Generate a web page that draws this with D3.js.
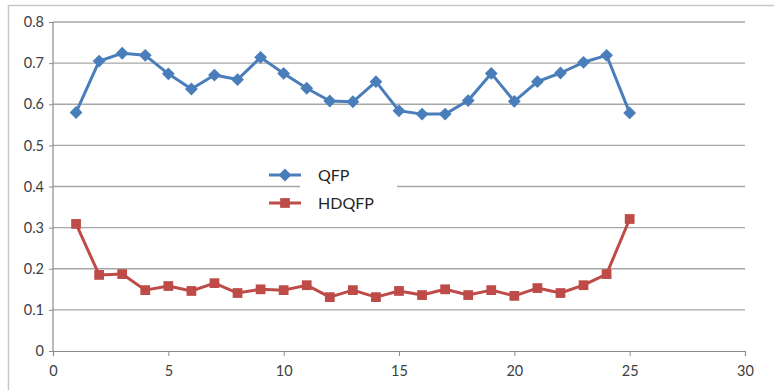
<!DOCTYPE html>
<html><head><meta charset="utf-8">
<script src="https://cdn.jsdelivr.net/npm/d3@7"></script>
<style>body{margin:0;background:#fff}svg{display:block}</style>
</head><body>
<svg id="c" width="774" height="390"></svg>
<script>
const xValues = [1,2,3,4,5,6,7,8,9,10,11,12,13,14,15,16,17,18,19,20,21,22,23,24,25];
const qfp = [0.58,0.705,0.724,0.719,0.674,0.637,0.671,0.66,0.714,0.675,0.639,0.608,0.606,0.655,0.584,0.576,0.576,0.609,0.675,0.607,0.655,0.676,0.702,0.719,0.579];
const hdqfp = [0.309,0.185,0.187,0.148,0.158,0.146,0.165,0.141,0.15,0.148,0.16,0.131,0.148,0.131,0.146,0.136,0.15,0.136,0.148,0.134,0.153,0.141,0.16,0.187,0.321];
const xTicks = [0,5,10,15,20,25,30];
const yTicks = [0,0.1,0.2,0.3,0.4,0.5,0.6,0.7,0.8];
const seriesNames = ["QFP","HDQFP"];
const colors = ["#4a7ebb","#be4b48"];

const svg = d3.select("#c");
const font = "Lato, 'Open Sans', sans-serif";
// outer frame
svg.append("path").attr("d","M8.5,395 L8.5,5.5 L780,5.5").attr("fill","none").attr("stroke","#c8c8c8").attr("stroke-width",1.5);

const x = d3.scaleLinear().domain([0,30]).range([53,745]);
const y = d3.scaleLinear().domain([0,0.8]).range([351,22]);

// gridlines
svg.append("g").selectAll("line").data(yTicks.filter(d=>d>0)).join("line")
  .attr("x1",53).attr("x2",745).attr("y1",d=>y(d)).attr("y2",d=>y(d))
  .attr("stroke","#a6a6a6").attr("stroke-width",1.3);

// y axis
const yAxis = svg.append("g").attr("transform","translate(53,0)")
  .call(d3.axisLeft(y).tickValues(yTicks).tickSize(4).tickPadding(5).tickFormat(d=>d===0?"0":d3.format(".1f")(d)));
yAxis.select(".domain").attr("stroke","#8c8c8c").attr("stroke-width",1.2).attr("d","M-4,22.5H0V351.5H-4");
yAxis.selectAll(".tick line").attr("stroke","#8c8c8c");
yAxis.selectAll("text").attr("font-family",font).attr("font-size",14.5).attr("fill","#404040");

// x axis
const xAxis = svg.append("g").attr("transform","translate(0,351)")
  .call(d3.axisBottom(x).tickValues(xTicks).tickSize(5).tickPadding(10));
xAxis.select(".domain").attr("stroke","#8c8c8c").attr("stroke-width",1.2);
xAxis.selectAll(".tick line").attr("stroke","#8c8c8c");
xAxis.selectAll("text").attr("font-family",font).attr("font-size",14.5).attr("fill","#404040");

// legend background
svg.append("rect").attr("x",300).attr("y",165).attr("width",97).attr("height",50).attr("fill","#fff");

const line = d3.line().x((d,i)=>x(xValues[i])).y(d=>y(d));
const diamond = d3.symbol().type(d3.symbolDiamond2).size(105);
const square = d3.symbol().type(d3.symbolSquare).size(95);

function drawSeries(vals, color, sym){
  const g = svg.append("g");
  g.append("path").datum(vals).attr("d",line).attr("fill","none").attr("stroke",color).attr("stroke-width",3).attr("stroke-linejoin","round");
  g.selectAll("path.m").data(vals).join("path").attr("class","m")
    .attr("transform",(d,i)=>`translate(${x(xValues[i])},${y(d)})`)
    .attr("d",sym).attr("fill",color);
}
drawSeries(qfp, colors[0], diamond);
drawSeries(hdqfp, colors[1], square);

// legend
const lg = svg.append("g");
const ly = [175,203];
seriesNames.forEach((n,i)=>{
  lg.append("line").attr("x1",269).attr("x2",301).attr("y1",ly[i]).attr("y2",ly[i]).attr("stroke",colors[i]).attr("stroke-width",3);
  lg.append("path").attr("transform",`translate(285,${ly[i]})`).attr("d",i===0?diamond:square).attr("fill",colors[i]);
  lg.append("text").attr("x",318).attr("y",ly[i]).attr("dy","0.35em").attr("font-family",font).attr("font-size",16).attr("fill","#262626").text(n);
});
</script>
</body></html>
